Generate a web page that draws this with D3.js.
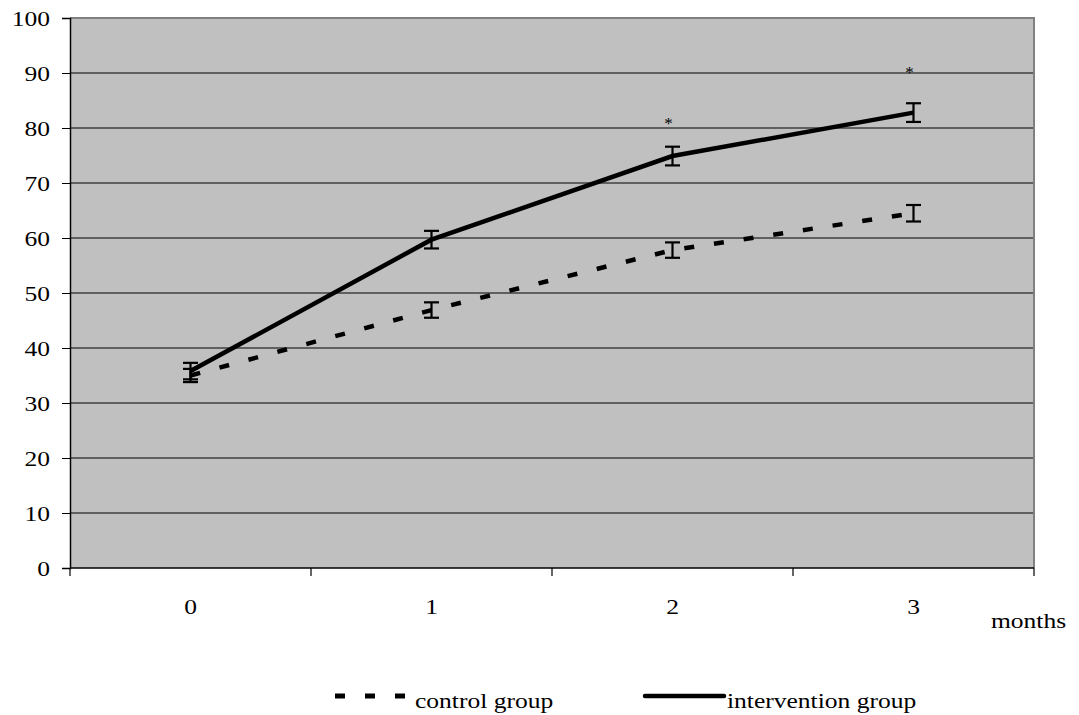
<!DOCTYPE html>
<html><head><meta charset="utf-8">
<script src="https://cdn.jsdelivr.net/npm/d3@7"></script>
<style>
html,body{margin:0;padding:0;background:#fff;}
svg{display:block;}
</style></head>
<body>
<svg id="chart" width="1079" height="715"></svg>
<script>
const months = ["0", "1", "2", "3"];
const yTicks = [0, 10, 20, 30, 40, 50, 60, 70, 80, 90, 100];
const controlMean = [35.0, 46.9, 57.8, 64.5];
const controlErr = [1.2, 1.4, 1.4, 1.5];
const interventionMean = [35.8, 59.7, 74.9, 82.8];
const interventionErr = [1.5, 1.6, 1.7, 1.7];
const starLevel = [null, null, 81.2, 90.5];
const seriesNames = ["control group", "intervention group"];

const FONT = "'Liberation Serif', 'Times New Roman', serif";
const svg = d3.select("#chart");
const L = 70, R = 1034, T = 18, B = 568;

const x = d3.scaleBand().domain(months).range([L, R]);
const y = d3.scaleLinear().domain([0, 100]).range([B, T]);

svg.append("rect").attr("x", L).attr("y", T).attr("width", R - L).attr("height", B - T)
  .attr("fill", "#c0c0c0");

svg.append("g").selectAll("line").data(yTicks.filter(d => d > 0 && d < 100)).join("line")
  .attr("x1", L).attr("x2", R).attr("y1", d => y(d)).attr("y2", d => y(d))
  .attr("stroke", "#000").attr("stroke-width", 1);

svg.append("path").attr("d", `M${L},${T}H${R}V${B}`).attr("fill", "none")
  .attr("stroke", "#808080").attr("stroke-width", 2);

const yAxis = d3.axisLeft(y).tickValues(yTicks).tickSize(8).tickPadding(12);
const gy = svg.append("g").attr("transform", `translate(${L},0)`).call(yAxis);
gy.select(".domain").attr("stroke", "#000").attr("stroke-width", 1.5);
gy.selectAll(".tick line").attr("stroke", "#000");
gy.selectAll("text").attr("fill", "#000");

const gx = svg.append("g").attr("transform", `translate(0,${B})`)
  .call(d3.axisBottom(x).tickSize(0).tickPadding(30));
gx.select(".domain").remove();
gx.selectAll("text").attr("fill", "#000");

const bounds = months.map(m => x(m)).concat([R]);
svg.append("g").selectAll("line").data(bounds).join("line")
  .attr("x1", d => d).attr("x2", d => d).attr("y1", B).attr("y2", B + 8)
  .attr("stroke", "#000").attr("stroke-width", 1.2);
svg.append("line").attr("x1", L).attr("x2", R).attr("y1", B).attr("y2", B)
  .attr("stroke", "#000").attr("stroke-width", 1.5);

svg.append("text").attr("x", 991).attr("y", 628).text("months");

const cx = m => x(m) + x.bandwidth() / 2;

const line = d3.line().x(d => cx(d.m)).y(d => y(d.v));
const controlData = months.map((m, i) => ({m, v: controlMean[i], e: controlErr[i]}));
const interData = months.map((m, i) => ({m, v: interventionMean[i], e: interventionErr[i]}));

svg.append("path").datum(controlData).attr("d", line).attr("fill", "none")
  .attr("stroke", "#000").attr("stroke-width", 4.5).attr("stroke-dasharray", "10,20");
svg.append("path").datum(interData).attr("d", line).attr("fill", "none")
  .attr("stroke", "#000").attr("stroke-width", 4.5);

function errBars(data) {
  const g = svg.append("g").attr("stroke", "#000").attr("stroke-width", 2.2);
  data.forEach(d => {
    const X = cx(d.m);
    g.append("line").attr("x1", X).attr("x2", X).attr("y1", y(d.v + d.e)).attr("y2", y(d.v - d.e));
    g.append("line").attr("x1", X - 7.5).attr("x2", X + 7.5).attr("y1", y(d.v + d.e)).attr("y2", y(d.v + d.e));
    g.append("line").attr("x1", X - 7.5).attr("x2", X + 7.5).attr("y1", y(d.v - d.e)).attr("y2", y(d.v - d.e));
  });
}
errBars(controlData);
errBars(interData);

const lg = svg.append("g");
lg.append("line").attr("x1", 335).attr("x2", 410).attr("y1", 696).attr("y2", 696)
  .attr("stroke", "#000").attr("stroke-width", 5).attr("stroke-dasharray", "10,20");
lg.append("text").attr("x", 415).attr("y", 708).text(seriesNames[0]);
lg.append("line").attr("x1", 645).attr("x2", 724).attr("y1", 696).attr("y2", 696)
  .attr("stroke", "#000").attr("stroke-width", 4.5).attr("stroke-linecap", "round");
lg.append("text").attr("x", 727).attr("y", 708).text(seriesNames[1]);

// apply common font to all texts, slightly widened like the reference
svg.selectAll("text").style("font-family", FONT).style("font-size", "22px");

// significance stars
svg.append("g").selectAll("text").data(months.map((m, i) => ({m, s: starLevel[i]})).filter(d => d.s !== null))
  .join("text").attr("x", d => cx(d.m) - 4).attr("y", d => y(d.s) + 8)
  .attr("text-anchor", "middle").style("font-family", FONT).style("font-size", "17px").text("*");

svg.selectAll("text").filter(function () { return this.textContent !== "*"; }).each(function () {
  const w = this.getComputedTextLength();
  d3.select(this).attr("textLength", w * 1.16).attr("lengthAdjust", "spacingAndGlyphs");
});
</script>
</body></html>
